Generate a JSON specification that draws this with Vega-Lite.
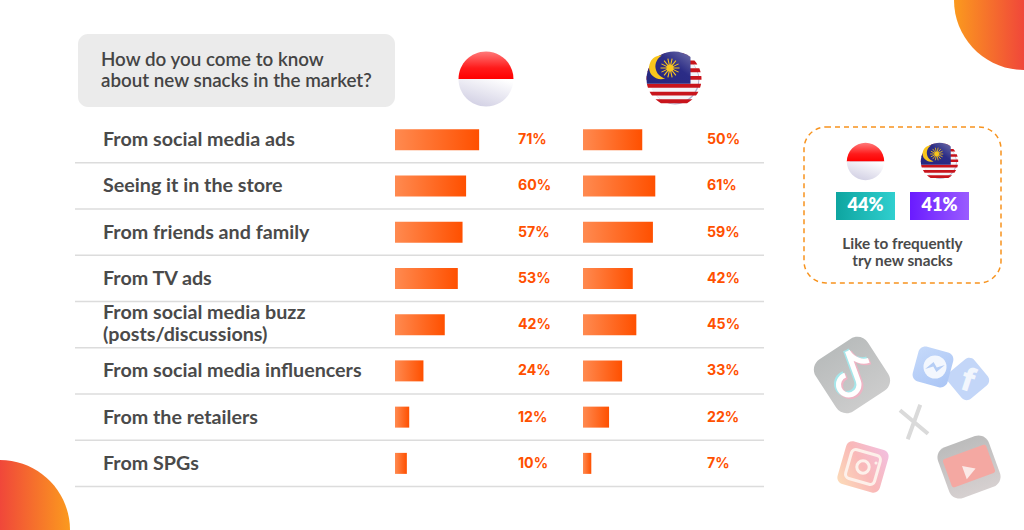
{
"$schema":"https://vega.github.io/schema/vega-lite/v6.json",
"width":1024,"height":530,"padding":0,
"autosize":{"type":"fit","contains":"padding"},
"background":"#ffffff",
"config":{"view":{"stroke":null}},
"data":{"values":[{}]},
"datasets":{
"rows":[
{"option":"From social media ads","country":"Indonesia","share":0.71},
{"option":"Seeing it in the store","country":"Indonesia","share":0.60},
{"option":"From friends and family","country":"Indonesia","share":0.57},
{"option":"From TV ads","country":"Indonesia","share":0.53},
{"option":"From social media buzz\n(posts/discussions)","country":"Indonesia","share":0.42},
{"option":"From social media influencers","country":"Indonesia","share":0.24},
{"option":"From the retailers","country":"Indonesia","share":0.12},
{"option":"From SPGs","country":"Indonesia","share":0.10},
{"option":"From social media ads","country":"Malaysia","share":0.50},
{"option":"Seeing it in the store","country":"Malaysia","share":0.61},
{"option":"From friends and family","country":"Malaysia","share":0.59},
{"option":"From TV ads","country":"Malaysia","share":0.42},
{"option":"From social media buzz\n(posts/discussions)","country":"Malaysia","share":0.45},
{"option":"From social media influencers","country":"Malaysia","share":0.33},
{"option":"From the retailers","country":"Malaysia","share":0.22},
{"option":"From SPGs","country":"Malaysia","share":0.07}
]},
"resolve":{"scale":{"x":"independent"}},
"layer":[
{"mark":{"type":"point","shape":"M0,0L-1,0A1,1 0 0 0 0,1Z","size":19600,"x":1024,"y":0,"opacity":1,"filled":true,"fill":{"x1":0,"y1":0,"x2":1,"y2":0,"gradient":"linear","stops":[{"offset":0,"color":"#fb9a1e"},{"offset":1,"color":"#f0473a"}]}},"encoding":{}},
{"mark":{"type":"point","shape":"M0,0L0,-1A1,1 0 0 1 1,0Z","size":19600,"x":0,"y":530,"opacity":1,"filled":true,"fill":{"x1":0,"y1":0,"x2":1,"y2":0,"gradient":"linear","stops":[{"offset":0,"color":"#f0473a"},{"offset":1,"color":"#fb9a1e"}]}},"encoding":{}},

{"mark":{"type":"rect","x":78,"x2":395,"y":34,"y2":107,"fill":"#ebebeb","cornerRadius":10},"encoding":{}},
{"mark":{"type":"text","x":101,"y":60,"text":"How do you come to know\nabout new snacks in the market?","lineBreak":"\n","lineHeight":21,"align":"left","baseline":"middle","font":"Lato","fontWeight":600,"fontSize":18.8,"color":"#444444"},"encoding":{}},

{"data":{"name":"rows"},"transform":[{"filter":"datum.country==='Indonesia'"}],
 "mark":{"type":"rule","x":75,"x2":764,"color":"#dcdcdc","strokeWidth":1.5},
 "encoding":{"y":{"field":"option","type":"nominal","bandPosition":1,"sort":null,"axis":null,"scale":{"type":"band","padding":0,"range":[116.5,486.5]}}}},
{"data":{"name":"rows"},"transform":[{"filter":"datum.country==='Indonesia' && indexof(datum.option,'\\n')<0"}],
 "mark":{"type":"text","x":103,"dy":0.5,"align":"left","baseline":"middle","font":"Lato","fontWeight":700,"fontSize":19.7,"color":"#4a4a4a"},
 "encoding":{"y":{"field":"option","type":"nominal","sort":null,"axis":null},"text":{"field":"option","type":"nominal"}}},
{"data":{"name":"rows"},"transform":[{"filter":"datum.country==='Indonesia' && indexof(datum.option,'\\n')>=0"}],
 "mark":{"type":"text","x":103,"dy":-11.5,"align":"left","baseline":"middle","lineBreak":"\n","lineHeight":22,"font":"Lato","fontWeight":700,"fontSize":19.7,"color":"#4a4a4a"},
 "encoding":{"y":{"field":"option","type":"nominal","sort":null,"axis":null},"text":{"field":"option","type":"nominal"}}},
{"data":{"name":"rows"},"transform":[{"filter":"datum.country==='Indonesia'"}],
 "mark":{"type":"bar","height":21,"fill":{"x1":0,"y1":0,"x2":1,"y2":0,"gradient":"linear","stops":[{"offset":0,"color":"#ff8a50"},{"offset":1,"color":"#ff5000"}]}},
 "encoding":{"y":{"field":"option","type":"nominal","sort":null,"axis":null},"x":{"field":"share","type":"quantitative","axis":null,"scale":{"domain":[0,1],"range":[395,513.5]}}}},
{"data":{"name":"rows"},"transform":[{"filter":"datum.country==='Malaysia'"}],
 "mark":{"type":"bar","height":21,"fill":{"x1":0,"y1":0,"x2":1,"y2":0,"gradient":"linear","stops":[{"offset":0,"color":"#ff8a50"},{"offset":1,"color":"#ff5000"}]}},
 "encoding":{"y":{"field":"option","type":"nominal","sort":null,"axis":null},"x":{"field":"share","type":"quantitative","axis":null,"scale":{"domain":[0,1],"range":[583,701.5]}}}},
{"data":{"name":"rows"},"transform":[{"filter":"datum.country==='Indonesia'"}],
 "mark":{"type":"text","x":518,"dy":0.5,"align":"left","baseline":"middle","font":"Inter","fontWeight":700,"fontSize":14.2,"color":"#ff5000"},
 "encoding":{"y":{"field":"option","type":"nominal","sort":null,"axis":null},"text":{"field":"share","type":"quantitative","format":".0%"}}},
{"data":{"name":"rows"},"transform":[{"filter":"datum.country==='Malaysia'"}],
 "mark":{"type":"text","x":707,"dy":0.5,"align":"left","baseline":"middle","font":"Inter","fontWeight":700,"fontSize":14.2,"color":"#ff5000"},
 "encoding":{"y":{"field":"option","type":"nominal","sort":null,"axis":null},"text":{"field":"share","type":"quantitative","format":".0%"}}},

{"mark":{"type":"point","shape":"circle","x":487,"y":80,"size":2376,"opacity":1,"filled":true,"fill":"#b3b0cc"},"encoding":{}},
{"mark":{"type":"point","shape":"M-1,0A1,1 0 0 1 1,0Z","x":486,"y":79,"size":3025,"opacity":1,"filled":true,"fill":{"x1":0,"y1":0,"x2":0,"y2":1,"gradient":"linear","stops":[{"offset":0,"color":"#ff7a7a"},{"offset":0.6,"color":"#ff1a1a"},{"offset":1,"color":"#ff0000"}]}},"encoding":{}},
{"mark":{"type":"point","shape":"M-1,0A1,1 0 0 0 1,0Z","x":486,"y":79,"size":3025,"opacity":1,"filled":true,"fill":{"x1":0.8,"y1":0,"x2":0.2,"y2":1,"gradient":"linear","stops":[{"offset":0,"color":"#ffffff"},{"offset":1,"color":"#cfcde2"}]}},"encoding":{}},

{"mark":{"type":"point","shape":"circle","x":675,"y":80,"size":2376,"opacity":1,"filled":true,"fill":"#b3b0cc"},"encoding":{}},
{"mark":{"type":"point","shape":"circle","x":674,"y":79,"size":2376,"opacity":1,"filled":true,"fill":"#f4f4f8"},"encoding":{}},
{"mark":{"type":"point","x":674,"y":79,"size":3025,"opacity":1,"filled":true,"fill":"#c8141c","shape":"M-.312,-.95L.312,-.95A1,1 0 0 1 .586,-.81L-.586,-.81A1,1 0 0 1 -.312,-.95ZM-.742,-.67L.742,-.67A1,1 0 0 1 .848,-.53L-.848,-.53A1,1 0 0 1 -.742,-.67ZM-.921,-.39L.921,-.39A1,1 0 0 1 .968,-.25L-.968,-.25A1,1 0 0 1 -.921,-.39ZM-.994,-.11L.994,-.11A1,1 0 0 1 .9995,.03L-.9995,.03A1,1 0 0 1 -.994,-.11ZM-.985,.17L.985,.17A1,1 0 0 1 .947,.32L-.947,.32A1,1 0 0 1 -.985,.17ZM-.888,.46L.888,.46A1,1 0 0 1 .8,.6L-.8,.6A1,1 0 0 1 -.888,.46ZM-.673,.74L.673,.74A1,1 0 0 1 .475,.88L-.475,.88A1,1 0 0 1 -.673,.74Z"},"encoding":{}},
{"mark":{"type":"point","x":674,"y":79,"size":3025,"opacity":1,"filled":true,"fill":{"x1":0,"y1":1,"x2":1,"y2":0,"gradient":"linear","stops":[{"offset":0,"color":"#25267e"},{"offset":0.6,"color":"#2b2c86"},{"offset":1,"color":"#6f6fa8"}]},"shape":"M.6,-.8L.6,.17L-.985,.17A1,1 0 0 1 .6,-.8Z"},"encoding":{}},
{"mark":{"type":"point","x":674,"y":79,"size":3025,"opacity":1,"filled":true,"fill":"#f8c51c","shape":"M-.45,-.85A.43,.43 0 1 0 -.32,-.02A.45,.45 0 0 1 -.45,-.85Z"},"encoding":{}},
{"mark":{"type":"point","x":670,"y":68,"size":361,"opacity":1,"filled":false,"stroke":"#f8c51c","strokeWidth":1.1,"shape":"M-1,0L1,0M-.901,-.434L.901,.434M-.623,-.782L.623,.782M-.223,-.975L.223,.975M.223,-.975L-.223,.975M.623,-.782L-.623,.782M.901,-.434L-.901,.434"},"encoding":{}},
{"mark":{"type":"point","shape":"circle","x":670,"y":68,"size":50,"opacity":1,"filled":true,"fill":"#f8c51c"},"encoding":{}},

{"mark":{"type":"rect","x":804,"x2":1001,"y":127,"y2":283,"fill":"transparent","stroke":"#f7931e","strokeWidth":1.5,"strokeDash":[5,4],"cornerRadius":22},"encoding":{}},

{"mark":{"type":"point","shape":"circle","x":866.2,"y":162.2,"size":1099,"opacity":1,"filled":true,"fill":"#b3b0cc"},"encoding":{}},
{"mark":{"type":"point","shape":"M-1,0A1,1 0 0 1 1,0Z","x":865.5,"y":161.5,"size":1399,"opacity":1,"filled":true,"fill":{"x1":0,"y1":0,"x2":0,"y2":1,"gradient":"linear","stops":[{"offset":0,"color":"#ff7a7a"},{"offset":0.6,"color":"#ff1a1a"},{"offset":1,"color":"#ff0000"}]}},"encoding":{}},
{"mark":{"type":"point","shape":"M-1,0A1,1 0 0 0 1,0Z","x":865.5,"y":161.5,"size":1399,"opacity":1,"filled":true,"fill":{"x1":0.8,"y1":0,"x2":0.2,"y2":1,"gradient":"linear","stops":[{"offset":0,"color":"#ffffff"},{"offset":1,"color":"#cfcde2"}]}},"encoding":{}},
{"mark":{"type":"point","shape":"circle","x":940.2,"y":162.2,"size":1099,"opacity":1,"filled":true,"fill":"#b3b0cc"},"encoding":{}},
{"mark":{"type":"point","shape":"circle","x":939.5,"y":161.5,"size":1099,"opacity":1,"filled":true,"fill":"#f4f4f8"},"encoding":{}},
{"mark":{"type":"point","x":939.5,"y":161.5,"size":1399,"opacity":1,"filled":true,"fill":"#c8141c","shape":"M-.312,-.95L.312,-.95A1,1 0 0 1 .586,-.81L-.586,-.81A1,1 0 0 1 -.312,-.95ZM-.742,-.67L.742,-.67A1,1 0 0 1 .848,-.53L-.848,-.53A1,1 0 0 1 -.742,-.67ZM-.921,-.39L.921,-.39A1,1 0 0 1 .968,-.25L-.968,-.25A1,1 0 0 1 -.921,-.39ZM-.994,-.11L.994,-.11A1,1 0 0 1 .9995,.03L-.9995,.03A1,1 0 0 1 -.994,-.11ZM-.985,.17L.985,.17A1,1 0 0 1 .947,.32L-.947,.32A1,1 0 0 1 -.985,.17ZM-.888,.46L.888,.46A1,1 0 0 1 .8,.6L-.8,.6A1,1 0 0 1 -.888,.46ZM-.673,.74L.673,.74A1,1 0 0 1 .475,.88L-.475,.88A1,1 0 0 1 -.673,.74Z"},"encoding":{}},
{"mark":{"type":"point","x":939.5,"y":161.5,"size":1399,"opacity":1,"filled":true,"fill":{"x1":0,"y1":1,"x2":1,"y2":0,"gradient":"linear","stops":[{"offset":0,"color":"#25267e"},{"offset":0.6,"color":"#2b2c86"},{"offset":1,"color":"#6f6fa8"}]},"shape":"M.6,-.8L.6,.17L-.985,.17A1,1 0 0 1 .6,-.8Z"},"encoding":{}},
{"mark":{"type":"point","x":939.5,"y":161.5,"size":1399,"opacity":1,"filled":true,"fill":"#f8c51c","shape":"M-.45,-.85A.43,.43 0 1 0 -.32,-.02A.45,.45 0 0 1 -.45,-.85Z"},"encoding":{}},
{"mark":{"type":"point","x":936.7,"y":154,"size":169,"opacity":1,"filled":false,"stroke":"#f8c51c","strokeWidth":0.8,"shape":"M-1,0L1,0M-.901,-.434L.901,.434M-.623,-.782L.623,.782M-.223,-.975L.223,.975M.223,-.975L-.223,.975M.623,-.782L-.623,.782M.901,-.434L-.901,.434"},"encoding":{}},
{"mark":{"type":"point","shape":"circle","x":936.7,"y":154,"size":23,"opacity":1,"filled":true,"fill":"#f8c51c"},"encoding":{}},

{"mark":{"type":"rect","x":836,"x2":895,"y":192,"y2":220,"fill":{"x1":0,"y1":0,"x2":1,"y2":0,"gradient":"linear","stops":[{"offset":0,"color":"#0ea5a0"},{"offset":1,"color":"#30cfcf"}]}},"encoding":{}},
{"mark":{"type":"rect","x":910,"x2":969,"y":192,"y2":220,"fill":{"x1":0,"y1":0,"x2":1,"y2":0,"gradient":"linear","stops":[{"offset":0,"color":"#6a1bff"},{"offset":1,"color":"#9a5cff"}]}},"encoding":{}},
{"data":{"values":[{"country":"Indonesia","share":0.44}]},"mark":{"type":"text","x":865.5,"y":206,"align":"center","baseline":"middle","font":"Lato","fontWeight":800,"fontSize":18,"color":"#ffffff"},"encoding":{"text":{"field":"share","type":"quantitative","format":".0%"}}},
{"data":{"values":[{"country":"Malaysia","share":0.41}]},"mark":{"type":"text","x":939.5,"y":206,"align":"center","baseline":"middle","font":"Lato","fontWeight":800,"fontSize":18,"color":"#ffffff"},"encoding":{"text":{"field":"share","type":"quantitative","format":".0%"}}},
{"mark":{"type":"text","x":902.5,"y":243.5,"text":"Like to frequently\ntry new snacks","lineBreak":"\n","lineHeight":17,"align":"center","baseline":"middle","font":"Lato","fontWeight":700,"fontSize":15.3,"color":"#4a4a4a"},"encoding":{}},

{"mark":{"type":"point","x":852,"y":375,"size":3844,"angle":-33,"opacity":1,"filled":true,"fill":{"x1":0,"y1":0,"x2":0,"y2":1,"gradient":"linear","stops":[{"offset":0,"color":"#b9bcbc"},{"offset":1,"color":"#cccccc"}]},"shape":"M-.6,-1H.6A.4,.4 0 0 1 1,-.6V.6A.4,.4 0 0 1 .6,1H-.6A.4,.4 0 0 1 -1,.6V-.6A.4,.4 0 0 1 -.6,-1Z"},"encoding":{}},
{"mark":{"type":"point","x":850.5,"y":374,"size":4096,"angle":-20,"opacity":1,"filled":false,"stroke":"#a6e6ea","strokeWidth":6,"shape":"M.12,-.75V.25A.32,.32 0 1 1 -.2,-.07M.12,-.75C.2,-.4 .45,-.25 .65,-.25"},"encoding":{}},
{"mark":{"type":"point","x":853.5,"y":376,"size":4096,"angle":-20,"opacity":1,"filled":false,"stroke":"#eeb4c4","strokeWidth":6,"shape":"M.12,-.75V.25A.32,.32 0 1 1 -.2,-.07M.12,-.75C.2,-.4 .45,-.25 .65,-.25"},"encoding":{}},
{"mark":{"type":"point","x":852,"y":375,"size":4096,"angle":-20,"opacity":1,"filled":false,"stroke":"#ffffff","strokeWidth":5,"shape":"M.12,-.75V.25A.32,.32 0 1 1 -.2,-.07M.12,-.75C.2,-.4 .45,-.25 .65,-.25"},"encoding":{}},

{"mark":{"type":"point","x":968,"y":379,"size":1156,"angle":50,"opacity":1,"filled":true,"fill":"#c3d6f8","shape":"M-.6,-1H.6A.4,.4 0 0 1 1,-.6V.6A.4,.4 0 0 1 .6,1H-.6A.4,.4 0 0 1 -1,.6V-.6A.4,.4 0 0 1 -.6,-1Z"},"encoding":{}},
{"mark":{"type":"text","x":968,"y":381,"text":"f","angle":18,"align":"center","baseline":"middle","font":"Inter","fontWeight":800,"fontSize":32,"color":"#f2f6fd"},"encoding":{}},
{"mark":{"type":"point","x":933,"y":367,"size":1296,"angle":15,"opacity":1,"filled":true,"fill":{"x1":0,"y1":0,"x2":1,"y2":1,"gradient":"linear","stops":[{"offset":0,"color":"#c5d9fa"},{"offset":1,"color":"#aac5f5"}]},"shape":"M-.6,-1H.6A.4,.4 0 0 1 1,-.6V.6A.4,.4 0 0 1 .6,1H-.6A.4,.4 0 0 1 -1,.6V-.6A.4,.4 0 0 1 -.6,-1Z"},"encoding":{}},
{"mark":{"type":"point","shape":"circle","x":935,"y":367,"size":530,"opacity":1,"filled":true,"fill":"#f3f7fe"},"encoding":{}},
{"mark":{"type":"point","x":935,"y":367,"size":324,"angle":15,"opacity":1,"filled":true,"fill":"#b5cdf5","shape":"M-1,.5L-.3,-.5L.2,0L1,-.5L.3,.5L-.2,0Z"},"encoding":{}},

{"mark":{"type":"point","x":914,"y":422,"size":900,"angle":-15,"opacity":1,"filled":false,"stroke":"#dadada","strokeWidth":4,"shape":"M-.7,-1L.7,1M.7,-1L-.7,1"},"encoding":{}},

{"mark":{"type":"point","x":863,"y":467,"size":1936,"angle":16,"opacity":1,"filled":true,"fill":{"x1":1,"y1":0,"x2":0,"y2":1,"gradient":"linear","stops":[{"offset":0,"color":"#f2c0e2"},{"offset":0.5,"color":"#f9b8b8"},{"offset":1,"color":"#fcdcb8"}]},"shape":"M-.7,-1H.7A.3,.3 0 0 1 1,-.7V.7A.3,.3 0 0 1 .7,1H-.7A.3,.3 0 0 1 -1,.7V-.7A.3,.3 0 0 1 -.7,-1Z"},"encoding":{}},
{"mark":{"type":"point","x":863,"y":467,"size":900,"angle":16,"opacity":1,"filled":false,"stroke":"#fdf0ea","strokeWidth":3,"shape":"M-.7,-1H.7A.3,.3 0 0 1 1,-.7V.7A.3,.3 0 0 1 .7,1H-.7A.3,.3 0 0 1 -1,.7V-.7A.3,.3 0 0 1 -.7,-1Z"},"encoding":{}},
{"mark":{"type":"point","shape":"circle","x":863,"y":467,"size":154,"opacity":1,"filled":false,"stroke":"#fdf0ea","strokeWidth":3},"encoding":{}},
{"mark":{"type":"point","shape":"circle","x":876,"y":463,"size":10,"opacity":1,"filled":true,"fill":"#fdf0ea"},"encoding":{}},

{"mark":{"type":"point","x":969,"y":467,"size":2916,"angle":-20,"opacity":1,"filled":true,"fill":{"x1":0,"y1":0,"x2":0,"y2":1,"gradient":"linear","stops":[{"offset":0,"color":"#bcbcbc"},{"offset":1,"color":"#d6d0d0"}]},"shape":"M-.6,-1H.6A.4,.4 0 0 1 1,-.6V.6A.4,.4 0 0 1 .6,1H-.6A.4,.4 0 0 1 -1,.6V-.6A.4,.4 0 0 1 -.6,-1Z"},"encoding":{}},
{"mark":{"type":"point","x":969,"y":466,"size":2116,"angle":-20,"opacity":1,"filled":true,"fill":"#f4a8a2","shape":"M-.9,-.65H.9A.1,.1 0 0 1 1,-.55V.55A.1,.1 0 0 1 .9,.65H-.9A.1,.1 0 0 1 -1,.55V-.55A.1,.1 0 0 1 -.9,-.65Z"},"encoding":{}},
{"mark":{"type":"point","x":969,"y":471,"size":196,"angle":-20,"opacity":1,"filled":true,"fill":"#fbe9e7","shape":"M-.7,-1L1,0L-.7,1Z"},"encoding":{}}
]
}
